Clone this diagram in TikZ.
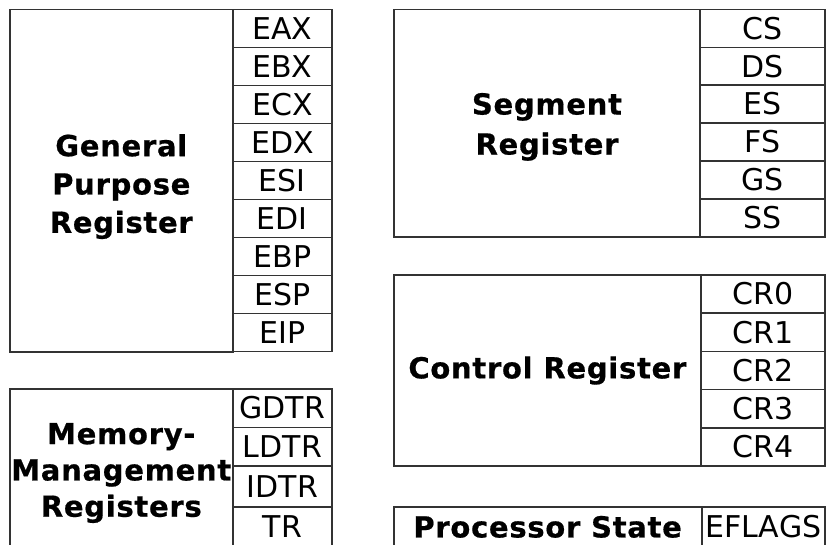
\documentclass[tikz,border=0pt]{standalone}
\usepackage{fontspec}
\setmainfont{DejaVu Sans}
\newfontfamily\labfont{DejaVu Sans Bold}[LetterSpace=2.5, FakeBold=0.6]
\definecolor{linec}{HTML}{333333}
\tikzset{
  box/.style={draw=linec, line width=1.6pt, inner sep=0pt, outer sep=0pt, anchor=north west},
  reg/.style={box, font=\fontsize{30}{36}\selectfont, text height=21.5pt, text depth=0pt},
  lab/.style={font=\labfont\fontsize{29}{38.3}\selectfont, align=center, inner sep=0pt, outer sep=0pt},
}
\begin{document}
\begin{tikzpicture}[x=1pt,y=-1pt]
\useasboundingbox (0,0) rectangle (826,545);
\fill[white] (0,0) rectangle (826,545);
\clip (0,0) rectangle (826,545);
% General purpose
\node[box, minimum width=222.7pt, minimum height=342.2pt] (gpr) at (10,9.5) {};
\node[lab] (gprlab) at (121.3,186.6) {General\\Purpose\\Register};
\foreach \n [count=\i from 0] in {EAX,EBX,ECX,EDX,ESI,EDI,EBP,ESP,EIP}
  \node[reg, minimum width=99.3pt, minimum height=38.02pt] (g\n) at (232.7,{9.5+\i*38.02}) {\n};
% Segment
\node[box, minimum width=306pt, minimum height=227.2pt] (seg) at (394,9.5) {};
\node[lab, font=\labfont\fontsize{29}{40}\selectfont] (seglab) at (547,126.9) {Segment\\Register};
\foreach \n [count=\i from 0] in {CS,DS,ES,FS,GS,SS}
  \node[reg, minimum width=125pt, minimum height=37.87pt] (s\n) at (700,{9.5+\i*37.87}) {\n};
% Control
\node[box, lab, anchor=north west, minimum width=306.7pt, minimum height=191pt] (ctl) at (394,275) {Control Register};
\foreach \n [count=\i from 0] in {CR0,CR1,CR2,CR3,CR4}
  \node[reg, minimum width=124.3pt, minimum height=38.2pt] (c\n) at (700.7,{275+\i*38.2}) {\n};
% Memory management
\node[box, minimum width=222.7pt, minimum height=165pt] (mem) at (10,389) {};
\node[lab, font=\labfont\fontsize{29}{36.3}\selectfont] (memlab) at (121.3,473) {Memory-\\Management\\Registers};
\node[reg, minimum width=99.3pt, minimum height=38.3pt] (gdtr) at (232.7,389) {GDTR};
\node[reg, minimum width=99.3pt, minimum height=38.7pt] (ldtr) at (232.7,427.3) {LDTR};
\node[reg, minimum width=99.3pt, minimum height=40.7pt] (idtr) at (232.7,466) {IDTR};
\node[reg, minimum width=99.3pt, minimum height=40pt] (tr) at (232.7,506.7) {TR};
% Processor state
\node[box, lab, anchor=north west, text height=21.5pt, text depth=0pt, minimum width=307.3pt, minimum height=40pt] (ps) at (394,506.7) {Processor State};
\node[reg, minimum width=123.3pt, minimum height=40pt] (eflags) at (701.7,506.7) {EFLAGS};
\end{tikzpicture}
\end{document}
